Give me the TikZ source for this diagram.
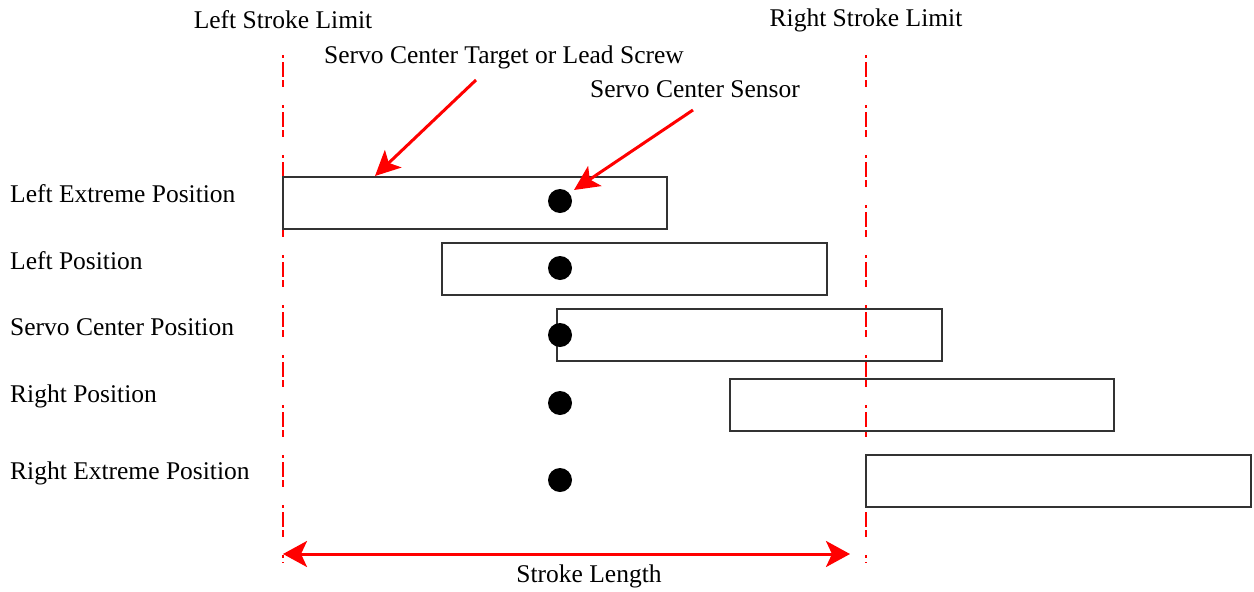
\documentclass[tikz,border=0pt]{standalone}
\usepackage{fontspec}
\setmainfont{Liberation Serif}
\usetikzlibrary{arrows.meta}
\begin{document}
\begin{tikzpicture}[x=1pt,y=-1pt,
  lbl/.style={font=\fontsize{25.5}{28}\selectfont, inner sep=0pt},
  posbox/.style={draw=black!80, line width=1.4pt},
  limitline/.style={draw=red, line width=2pt, dash pattern=on 3pt off 4pt on 15pt off 3pt on 7pt off 18pt},
  calloutarrow/.style={draw=red, line width=3pt, -{Stealth[length=25pt,width=24pt,inset=6pt]}},
  strokearrow/.style={draw=red, line width=3pt, {Stealth[length=24pt,width=26pt,inset=6pt]}-{Stealth[length=24pt,width=26pt,inset=6pt]}},
  sensordot/.style={circle, fill=black, minimum size=24pt, inner sep=0pt}]
\useasboundingbox (0,0) rectangle (1254,592);
% limit lines
\coordinate (LT) at (283,55);
\coordinate (LB) at (283,563);
\coordinate (RT) at (866,55);
\coordinate (RB) at (866,563);
\draw[limitline] (LT) -- (LB);
\draw[limitline] (RT) -- (RB);
% boxes
\draw[posbox] (283,177) rectangle (667,229);
\draw[posbox] (442,243) rectangle (827,295);
\draw[posbox] (557,309) rectangle (942,361);
\draw[posbox] (730,379) rectangle (1114,431);
\draw[posbox] (866,455) rectangle (1251,507);
% sensors
\node[sensordot] (s1) at (560,201) {};
\node[sensordot] (s2) at (560,268) {};
\node[sensordot] (s3) at (560,335) {};
\node[sensordot] (s4) at (560,403) {};
\node[sensordot] (s5) at (560,480) {};
% labels
\node[lbl, anchor=west] (l1) at (10,194) {Left Extreme Position};
\node[lbl, anchor=west] (l2) at (10,261) {Left Position};
\node[lbl, anchor=west] (l3) at (10,327) {Servo Center Position};
\node[lbl, anchor=west] (l4) at (10,396) {Right Position};
\node[lbl, anchor=west] (l5) at (10,473) {Right Extreme Position};
\node[lbl] (lsl) at (283,20) {Left Stroke Limit};
\node[lbl] (rsl) at (866,20) {Right Stroke Limit};
\node[lbl] (tgt) at (504,57) {Servo Center Target or Lead Screw};
\node[lbl] (sen) at (695,89) {Servo Center Sensor};
\node[lbl] (slen) at (589,576) {Stroke Length};
% callouts
\coordinate (tgttip) at (375,176);
\coordinate (sentip) at (574,190);
\draw[calloutarrow] (476,80) -- (tgttip);
\draw[calloutarrow] (693,110) -- (sentip);
% stroke length
\coordinate (sa) at (283,554);
\coordinate (sb) at (850,554);
\draw[strokearrow] (sa) -- (sb);
\end{tikzpicture}
\end{document}
